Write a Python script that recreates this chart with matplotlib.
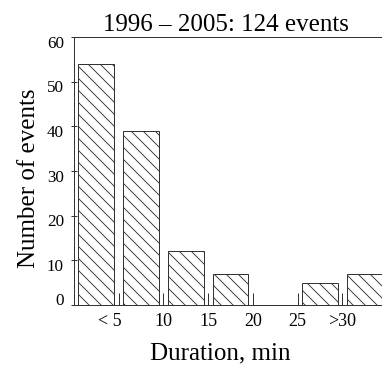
#!/usr/bin/env python3
import matplotlib
matplotlib.use('Agg')
import matplotlib.pyplot as plt
import matplotlib.transforms as mtransforms
import numpy as np

# Event counts per duration bin (5 min bins, last one is open-ended)
bins = ['0-5', '5-10', '10-15', '15-20', '20-25', '25-30', '>30']
counts = [54, 39, 12, 7, 0, 5, 7]
edge_labels = ['< 5', '10', '15', '20', '25', '>30']
yticks = [0, 10, 20, 30, 40, 50, 60]

title = '1996 \u2013 2005: 124 events'

plt.rcParams['font.family'] = ['Liberation Serif', 'DejaVu Serif']
plt.rcParams['hatch.linewidth'] = 0.9
plt.rcParams['hatch.color'] = '#222222'

dpi = 72
fig = plt.figure(figsize=(382 / dpi, 366 / dpi), dpi=dpi)
ax = fig.add_axes([74 / 382, 61 / 366, 313 / 382, 268 / 366])

x = np.arange(len(bins))
ax.bar(x, counts, width=0.8, color='white', edgecolor='#333333',
       linewidth=1.0, hatch='\\\\')

ax.set_xlim(-0.5, 6.5)
ax.set_ylim(0, 60)

# bin edges sit between the bars
edges = x[:-1] + 0.5
ax.set_xticks(edges)
ax.set_xticklabels(edge_labels, fontsize=18)
ax.tick_params(axis='x', direction='in', length=12, width=1.0, pad=8,
               color='#333333')
first = ax.get_xticklabels()[0]
first.set_horizontalalignment('right')
first.set_transform(first.get_transform() +
                    mtransforms.ScaledTranslation(3 / dpi, 0, fig.dpi_scale_trans))

ax.set_yticks(yticks)
ax.set_yticklabels([str(v) for v in yticks], fontsize=17)
ax.tick_params(axis='y', direction='inout', length=6, width=1.0, pad=7,
               color='#333333')
# numbers sit a little below their ticks, the zero is lifted off the axis
for val, lab in zip(yticks, ax.get_yticklabels()):
    dy = 6 if val == 0 else -4.5
    lab.set_transform(lab.get_transform() +
                      mtransforms.ScaledTranslation(0, dy / dpi, fig.dpi_scale_trans))

for sp in ax.spines.values():
    sp.set_linewidth(1.0)
    sp.set_color('#333333')

ax.set_title(title, fontsize=25, pad=6, x=0.485)
ax.set_xlabel('Duration, min', fontsize=25, labelpad=12)
ax.xaxis.label.set_x(0.466)
ax.set_ylabel('Number of events', fontsize=25, labelpad=7)
ax.yaxis.label.set_y(0.474)

fig.savefig('out.png', dpi=dpi)
